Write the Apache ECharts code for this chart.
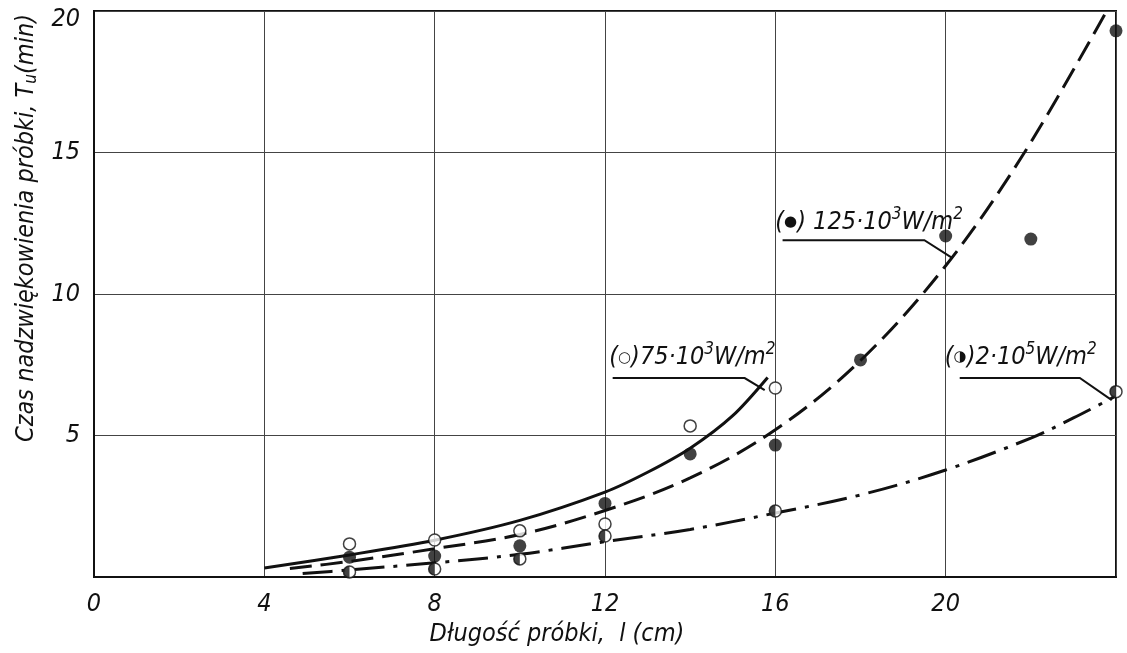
<!DOCTYPE html>
<html><head><meta charset="utf-8">
<script src="https://cdn.jsdelivr.net/npm/echarts@6/dist/echarts.min.js"></script>
<style>html,body{margin:0;padding:0;background:#fff}#c{width:1127px;height:653px}</style>
</head><body><div id="c"></div>
<script>
// ---- data ----
const xTicks = [0, 4, 8, 12, 16, 20];
const yTicks = [5, 10, 15, 20];
// measured points: 75·10³ W/m² (open circles)
const openX = [6, 8, 10, 12, 14, 16];
const openY = [1.17, 1.31, 1.63, 1.87, 5.34, 6.68];
// 125·10³ W/m² (filled circles)
const filledX = [6, 8, 10, 12, 14, 16, 18, 20, 22, 24];
const filledY = [0.70, 0.74, 1.10, 2.60, 4.35, 4.66, 7.67, 12.05, 11.94, 19.3];
// 2·10⁵ W/m² (half-filled circles)
const halfX = [6, 8, 10, 12, 16, 24];
const halfY = [0.18, 0.28, 0.64, 1.45, 2.33, 6.55];
// fitted curves
const curve75X = [4, 6, 8, 10, 12, 13, 14, 15, 15.82];
const curve75Y = [0.32, 0.78, 1.3, 2.0, 3.0, 3.7, 4.55, 5.7, 7.05];
const curve125X = [4.6, 6, 8, 10, 12, 14, 16, 18, 20, 21.85, 23.78];
const curve125Y = [0.3, 0.55, 1.0, 1.5, 2.35, 3.5, 5.2, 7.65, 11.0, 15.0, 20.0];
const curve2e5X = [4.9, 6, 8, 10, 12, 14, 16, 18, 20, 22, 23, 24];
const curve2e5Y = [0.12, 0.25, 0.5, 0.8, 1.25, 1.68, 2.26, 2.9, 3.78, 4.91, 5.62, 6.4];
// annotation texts
const labelNames = ['75·10', '125·10', '2·10'];
const labelExps = ['3', '3', '5'];
const labelSymbols = ['○', '●', '◑'];

const pairs = (xs, ys) => xs.map((x, i) => [x, ys[i]]);

const FONT = '"Liberation Sans Narrow","DejaVu Sans Condensed","Liberation Sans",sans-serif';
const INK = '#111';

const chart = echarts.init(document.getElementById('c'), null, {renderer: 'canvas'});

const leftHalfPath = 'path://M10,0 A10,10 0 0 0 10,20 Z';

chart.setOption({
  animation: false,
  backgroundColor: '#fff',
  grid: {
    left: 94, right: 11, top: 11, bottom: 76,
    show: true, borderColor: INK, borderWidth: 2, backgroundColor: 'transparent',
    outerBoundsMode: 'none'
  },
  xAxis: {
    type: 'value', min: xTicks[0], max: 24, interval: 4,
    axisLine: {show: true, lineStyle: {color: INK, width: 2}},
    axisTick: {show: false},
    splitLine: {show: true, lineStyle: {color: '#444', width: 1}},
    axisLabel: {
      margin: 15, color: INK, fontSize: 25, fontStyle: 'italic', fontFamily: FONT,
      formatter: v => (xTicks.indexOf(v) >= 0 ? String(v) : '')
    },
    name: 'Długość próbki,  l (cm)',
    nameLocation: 'middle', nameGap: 45,
    nameTextStyle: {color: INK, fontSize: 25, fontStyle: 'italic', fontFamily: FONT, padding: [0, 96, 0, 0]}
  },
  yAxis: {
    type: 'value', min: 0, max: 20, interval: 5,
    axisLine: {show: true, lineStyle: {color: INK, width: 2}},
    axisTick: {show: false},
    splitLine: {show: true, lineStyle: {color: '#444', width: 1}},
    axisLabel: {
      margin: 14, color: INK, fontSize: 25, fontStyle: 'italic', fontFamily: FONT,
      formatter: v => (v === 20 ? '{t|20}' : (yTicks.indexOf(v) >= 0 ? String(v) : '')),
      rich: {t: {fontSize: 25, fontStyle: 'italic', fontFamily: FONT, color: INK, padding: [16, 0, 0, 0]}}
    },
    name: 'Czas nadzwiękowienia próbki, {t|T}{sub|u}{n|(min)}',
    nameLocation: 'middle', nameGap: 52,
    nameTextStyle: {
      color: INK, fontSize: 25, fontStyle: 'italic', fontFamily: FONT, padding: [0, 0, 0, 132],
      rich: {
        t: {fontSize: 25, fontStyle: 'italic', fontFamily: FONT, color: INK},
        sub: {fontSize: 17, fontStyle: 'italic', fontFamily: FONT, color: INK, padding: [10, 0, 0, 0]},
        n: {fontSize: 25, fontStyle: 'italic', fontFamily: FONT, color: INK}
      }
    }
  },
  series: [
    {type: 'line', name: '75', data: pairs(curve75X, curve75Y), smooth: 0.3, showSymbol: false, symbol: 'none',
     lineStyle: {color: INK, width: 3}, z: 3},
    {type: 'line', name: '125', data: pairs(curve125X, curve125Y), smooth: 0.35, showSymbol: false, symbol: 'none',
     lineStyle: {color: INK, width: 3, type: [22, 9]}, z: 3},
    {type: 'line', name: '2e5', data: pairs(curve2e5X, curve2e5Y), smooth: 0.35, showSymbol: false, symbol: 'none',
     lineStyle: {color: INK, width: 3, type: [30, 9, 4, 9]}, z: 3},
    {type: 'scatter', data: pairs(openX, openY), symbol: 'circle', symbolSize: 12,
     itemStyle: {color: '#fff', borderColor: INK, borderWidth: 1.5}, z: 5},
    {type: 'scatter', data: pairs(filledX, filledY), symbol: 'circle', symbolSize: 13,
     itemStyle: {color: INK}, z: 5},
    {type: 'scatter', data: pairs(halfX, halfY), symbol: 'circle', symbolSize: 12,
     itemStyle: {color: '#fff', borderColor: INK, borderWidth: 1.5}, z: 5},
    {type: 'scatter', data: pairs(halfX, halfY), symbol: leftHalfPath, symbolSize: [6, 12], symbolOffset: [-3, 0],
     symbolKeepAspect: false, itemStyle: {color: INK, borderWidth: 0}, z: 6}
  ]
});

// ---- annotations (placed in data space, converted by the chart) ----
const annotationAnchors = [
  {text: [12.1, 7.74], leader: [[12.18, 7.03], [15.28, 7.03], [15.75, 6.6]]},
  {text: [16.0, 12.54], leader: [[16.17, 11.9], [19.5, 11.9], [20.16, 11.27]]},
  {text: [19.98, 7.77], leader: [[20.33, 7.03], [23.15, 7.03], [23.9, 6.25]]}
];
const toPx = p => chart.convertToPixel({gridIndex: 0}, p);
const richStyle = {
  n: {fontSize: 25, fontStyle: 'italic', fontFamily: FONT, fill: INK},
  s: {fontSize: 15, fontFamily: '"DejaVu Sans",sans-serif', fill: INK},
  sup: {fontSize: 17, fontStyle: 'italic', fontFamily: FONT, fill: INK, padding: [0, 0, 16, 0]}
};
const graphics = [];
annotationAnchors.forEach((a, i) => {
  const p = toPx(a.text);
  graphics.push({
    type: 'text', x: p[0], y: p[1], z: 10,
    style: {
      text: '{n|(}{s|' + labelSymbols[i] + '}{n|)' + (i === 1 ? ' ' : '') + labelNames[i] + '}{sup|' + labelExps[i] + '}{n|W/m}{sup|2}',
      rich: richStyle, verticalAlign: 'middle', align: 'left', fill: INK
    }
  });
  graphics.push({
    type: 'polyline', z: 10,
    shape: {points: a.leader.map(toPx)},
    style: {stroke: INK, lineWidth: 2, fill: null}
  });
});
chart.setOption({graphic: graphics});
</script>
</body></html>
